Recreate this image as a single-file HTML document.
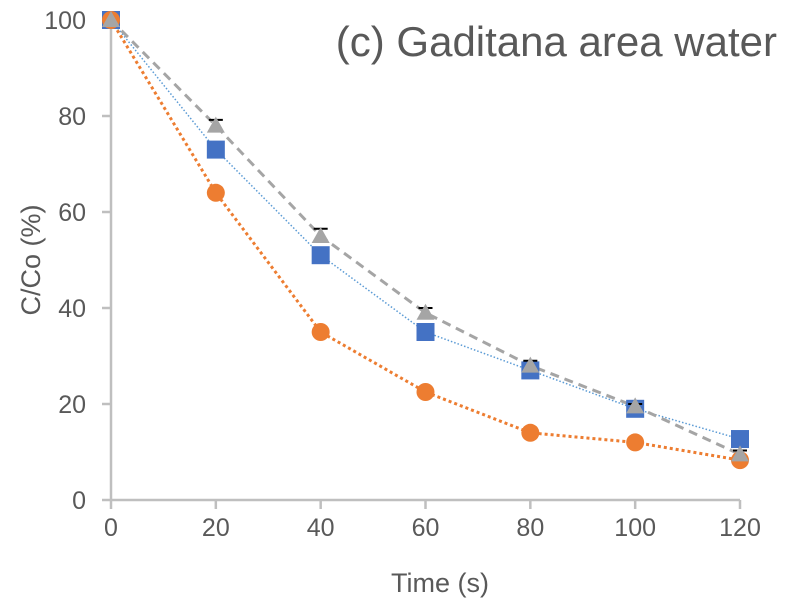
<!DOCTYPE html>
<html><head><meta charset="utf-8"><style>
body{margin:0;background:#fff;}
svg{display:block;font-family:"Liberation Sans",sans-serif;}
</style></head><body>
<svg id="chart" width="796" height="611">
<g id="axes"></g>
<g id="series"></g>
<text x="777" y="56" font-size="42" fill="#595959" text-anchor="end">(c) Gaditana area water</text>
<text x="440" y="592" font-size="27" fill="#595959" text-anchor="middle">Time (s)</text>
<text transform="translate(40,260) rotate(-90)" font-size="27" fill="#595959" text-anchor="middle">C/Co (%)</text>
</svg>
<script>
const times=[0,20,40,60,80,100,120];
const orangeVals=[100,64,35,22.5,14,12,8.3];
const blueVals=[100,73,51,35,27,19,12.7];
const grayVals=[100,78,55,39,28,19.5,9.5];
const grayErr=[0,1.2,1.5,1,1,0.5,0.8];
const xTicks=[0,20,40,60,80,100,120];
const yTicks=[0,20,40,60,80,100];
const NS="http://www.w3.org/2000/svg";
const X0=111,X1=740,Y0=500,Y1=20;
function sx(v){return X0+(v-0)/(120-0)*(X1-X0);}
function sy(v){return Y0-(v-0)/(100-0)*(Y0-Y1);}
function mk(tag,attrs,parent){const e=document.createElementNS(NS,tag);for(const k in attrs)e.setAttribute(k,attrs[k]);parent.appendChild(e);return e;}
const axes=document.getElementById('axes');
let a=mk('line',{x1:X0,y1:Y0,x2:X1,y2:Y0,stroke:'#bfbfbf','stroke-width':2.5},axes);


a=mk('line',{x1:X0,y1:Y0,x2:X0,y2:Y1,stroke:'#bfbfbf','stroke-width':2.5},axes);


xTicks.forEach(t=>{
 let l=mk('line',{x1:sx(t),y1:Y0,x2:sx(t),y2:Y0+9,stroke:'#bfbfbf','stroke-width':2.5},axes);
 
 
 let tx=mk('text',{x:sx(t),y:Y0+36,'font-size':25,fill:'#595959','text-anchor':'middle'},axes);
 tx.textContent=t;
 
 
});
yTicks.forEach(t=>{
 let l=mk('line',{x1:X0-9,y1:sy(t),x2:X0,y2:sy(t),stroke:'#bfbfbf','stroke-width':2.5},axes);
 
 
 let tx=mk('text',{x:X0-25,y:sy(t)+9,'font-size':25,fill:'#595959','text-anchor':'end'},axes);
 tx.textContent=t;
 
 
});
const sg=document.getElementById('series');
function pts(vals){return vals.map((v,i)=>sx(times[i])+','+sy(v)).join(' ');}
let p=mk('polyline',{points:pts(blueVals),fill:'none',stroke:'#5b9bd5','stroke-width':1.5,'stroke-dasharray':'1.5 2'},sg);


p=mk('polyline',{points:pts(orangeVals),fill:'none',stroke:'#ed7d31','stroke-width':3,'stroke-dasharray':'3 3'},sg);


p=mk('polyline',{points:pts(grayVals),fill:'none',stroke:'#a5a5a5','stroke-width':3,'stroke-dasharray':'9 6'},sg);


blueVals.forEach((v,i)=>{
 let r=mk('rect',{x:sx(times[i])-9,y:sy(v)-9,width:18,height:18,fill:'#4472c4'},sg);
 
 
});
orangeVals.forEach((v,i)=>{
 let c=mk('circle',{cx:sx(times[i]),cy:sy(v),r:9,fill:'#ed7d31'},sg);
 
 
});
grayVals.forEach((v,i)=>{
 const x=sx(times[i]),y=sy(v);
 if(grayErr[i]>0){
  const ye=sy(v+grayErr[i]);
  let e=mk('path',{d:`M${x},${y} V${ye} M${x-7},${ye} H${x+7}`,stroke:'#000','stroke-width':2,fill:'none'},sg);
  
  
 }
 let t=mk('polygon',{points:`${x},${y-9} ${x+9},${y+7} ${x-9},${y+7}`,fill:'#a5a5a5'},sg);
 
 
});
</script>
</body></html>
